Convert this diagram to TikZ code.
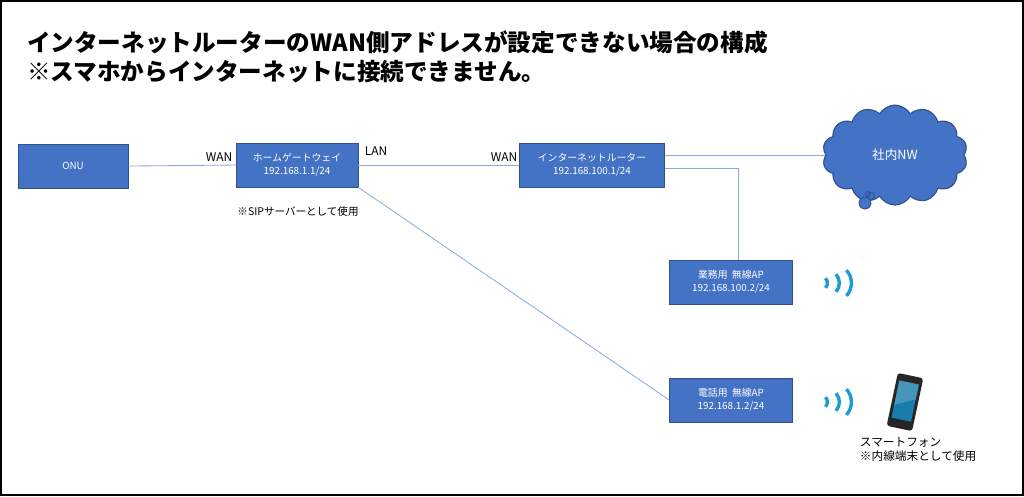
\documentclass[tikz,border=0pt]{standalone}
\usepackage{fontspec}
\setmainfont{Noto Sans CJK JP}
\usetikzlibrary{shapes.symbols, positioning, calc}
\definecolor{boxblue}{HTML}{4472C4}
\definecolor{boxedge}{HTML}{2F528F}
\definecolor{linkblue}{HTML}{8EA9DB}
\definecolor{wifiblue}{HTML}{1E9BD7}
\tikzset{
	device/.style={draw=boxedge, fill=boxblue, text=white, font=\fontsize{7}{9.5}\selectfont, align=center, inner sep=0pt},
	link/.style={draw=linkblue, line width=0.6pt},
	port/.style={font=\fontsize{8.5}{10}\selectfont},
	note/.style={font=\fontsize{7.5}{9.5}\selectfont, align=left}
}
\newcommand{\wifi}[1]
{
	\foreach \r in {0.18,0.33,0.48}
		\draw[wifiblue, line width=2.4pt] ($ (#1) + (\r cm,0) $) ++(-42:\r cm) arc (-42:42:\r cm);
}
\begin{document}
\begin{tikzpicture}[x=0.025cm, y=-0.025cm]
	\draw[line width=1.5pt] (1,1) rectangle (1023,495);
	\node[anchor=west, font=\bfseries\fontsize{16.8}{21}\selectfont, align=left] (title) at (22,57) {インターネットルーターのWAN側アドレスが設定できない場合の構成\\※スマホからインターネットに接続できません。};

	\node[device, minimum width=110*0.025cm, minimum height=44*0.025cm] (onu) at (73,166) {ONU};
	\node[device, minimum width=122*0.025cm, minimum height=44*0.025cm] (hgw) at (297,165) {ホームゲートウェイ\\192.168.1.1/24};
	\node[device, minimum width=145*0.025cm, minimum height=44*0.025cm] (rt) at (592,165) {インターネットルーター\\192.168.100.1/24};
	\node[cloud, cloud puffs=14, cloud puff arc=120, aspect=1.4, draw=boxedge, fill=boxblue, text=white, font=\fontsize{9}{11}\selectfont, minimum width=145*0.025cm, minimum height=100*0.025cm, line width=0.8pt] (nw) at (895,155) {社内NW};
	\fill[boxblue, draw=boxedge, line width=0.6pt] (865,203) circle (6) (871,196) circle (3.5) (868,194) circle (2.5);
	\node[device, minimum width=123*0.025cm, minimum height=44*0.025cm] (ap1) at (731,282) {業務用\ \ 無線AP\\192.168.100.2/24};
	\node[device, minimum width=123*0.025cm, minimum height=44*0.025cm] (ap2) at (731,400) {電話用\ \ 無線AP\\192.168.1.2/24};

	\draw[link] (onu.east) -- (hgw.west);
	\draw[link] (hgw.east) -- (rt.west);
	\draw[link] (rt.east |- 0,155) -- (nw.west |- 0,155);
	\draw[link] (rt.east |- 0,168) -| (ap1.north -| 738,0);
	\draw[link] (hgw.south east) -- (ap2.west);

	\node[port] (wan1) at (219,157) {WAN};
	\node[port] (lan) at (376,151) {LAN};
	\node[port] (wan2) at (504,157) {WAN};
	\node[note] (sip) at (298,211) {※SIPサーバーとして使用};

	\coordinate (w1) at (813,283);
	\coordinate (w2) at (813,402);
	\wifi{w1}
	\wifi{w2}

	% smartphone
	\begin{scope}[shift={(905,402)}, rotate=-12]
		\fill[black!85, rounded corners=2pt] (-13,-27) rectangle (13,27);
		\fill[wifiblue!80!black] (-10,-20) rectangle (10,18);
		\fill[white, opacity=0.2] (-10,-20) -- (10,-20) -- (10,-5) -- (-10,5) -- cycle;
	\end{scope}
	\node[note, anchor=north west, font=\fontsize{8.3}{10.5}\selectfont] (phone) at (855,432) {スマートフォン\\※内線端末として使用};
\end{tikzpicture}
\end{document}
